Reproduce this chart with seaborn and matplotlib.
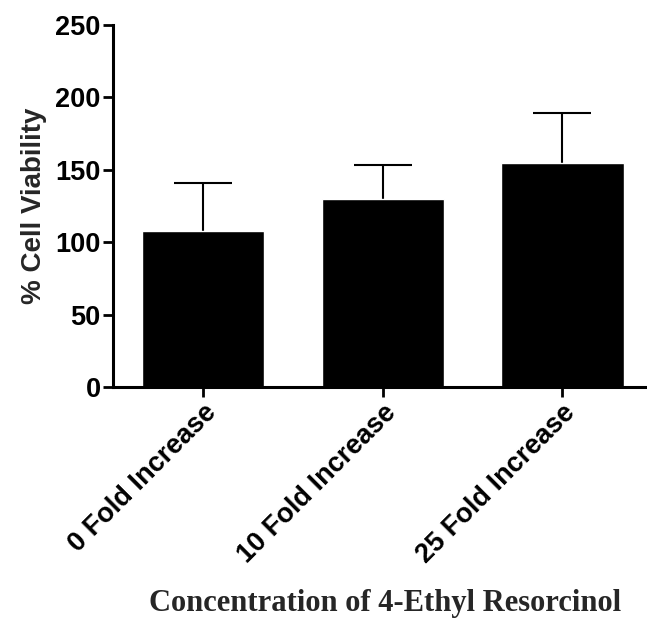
import matplotlib
matplotlib.use("Agg")
import matplotlib.pyplot as plt
import seaborn as sns
import pandas as pd

# Cell viability after 4-ethyl resorcinol exposure (mean and upper SD)
categories = ["0 Fold Increase", "10 Fold Increase", "25 Fold Increase"]
viability = [108, 130, 155]
upper_sd = [33, 23, 34]
y_ticks = [0, 50, 100, 150, 200, 250]

df = pd.DataFrame({"group": categories, "viability": viability})

sns.set_theme(style="white")
plt.rcParams["font.family"] = ["Liberation Sans", "DejaVu Sans"]

fig = plt.figure(figsize=(6.47, 6.18), dpi=100)
ax = fig.add_axes([0.1747, 0.3738, 0.8253, 0.5857])

sns.barplot(data=df, x="group", y="viability", color="black",
            saturation=1, width=0.68, errorbar=None, ax=ax, zorder=2)

# upper-only error bars: a stem from the bar top plus a cap at mean + SD
xs = list(range(len(categories)))
tops = [m + s for m, s in zip(viability, upper_sd)]
ax.errorbar(xs, viability, yerr=[[0] * len(upper_sd), upper_sd], fmt="none",
            ecolor="black", elinewidth=1.5, capsize=0, zorder=1)
ax.plot(xs, tops, linestyle="none", marker="_", markersize=42,
        markeredgewidth=1.5, color="black", zorder=1)

ax.set_ylim(0, 250)
ax.set_xlim(-0.5, 2.47)
ax.set_yticks(y_ticks)
ax.set_yticklabels([str(t) for t in y_ticks], fontsize=19.5, fontweight="bold")
ax.set_xticks(xs)
ax.set_xticklabels(categories, rotation=45, ha="right", rotation_mode="anchor",
                   fontsize=19.5, fontweight="bold")

ax.set_ylabel("% Cell Viability", fontsize=20, fontweight="bold", labelpad=6)
ax.set_xlabel("Concentration of 4-Ethyl Resorcinol", fontsize=22,
              fontweight="bold", family=["Liberation Serif", "DejaVu Serif"],
              labelpad=15)
ax.xaxis.label.set_x(0.51)

sns.despine(ax=ax)
for side in ("left", "bottom"):
    ax.spines[side].set_linewidth(2.2)
    ax.spines[side].set_color("black")
    ax.spines[side].set_zorder(3)
ax.tick_params(axis="both", which="major", length=7, width=2, color="black",
               pad=2, bottom=True, left=True, labelcolor="black")

fig.savefig("out.png", dpi=100, facecolor="white")
